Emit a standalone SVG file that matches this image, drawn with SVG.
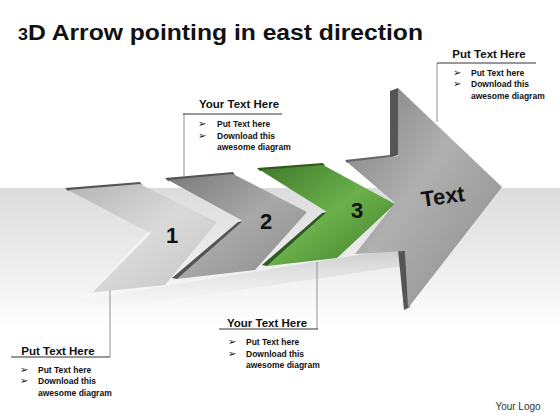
<svg xmlns="http://www.w3.org/2000/svg" width="560" height="420" viewBox="0 0 560 420">
<defs>
<linearGradient id="bg" x1="0" y1="0" x2="0" y2="1">
<stop offset="0" stop-color="#dcdcdc"/>
<stop offset="0.5" stop-color="#ececec"/>
<stop offset="1" stop-color="#ffffff"/>
</linearGradient>
<linearGradient id="floor" x1="0" y1="0" x2="0" y2="1">
<stop offset="0" stop-color="#c8c8c8"/>
<stop offset="1" stop-color="#eeeeee" stop-opacity="0"/>
</linearGradient>
<linearGradient id="g1" x1="0" y1="0" x2="1" y2="1">
<stop offset="0" stop-color="#b4b4b4"/>
<stop offset="0.5" stop-color="#dadada"/>
<stop offset="1" stop-color="#c4c4c4"/>
</linearGradient>
<linearGradient id="g2" x1="0" y1="0" x2="1" y2="1">
<stop offset="0" stop-color="#7a7a7a"/>
<stop offset="0.5" stop-color="#a8a8a8"/>
<stop offset="1" stop-color="#8c8c8c"/>
</linearGradient>
<linearGradient id="g3" x1="0" y1="0" x2="1" y2="1">
<stop offset="0" stop-color="#3f7a2a"/>
<stop offset="0.5" stop-color="#6bb04b"/>
<stop offset="1" stop-color="#3e7d2a"/>
</linearGradient>
<linearGradient id="g4" x1="0" y1="0" x2="1" y2="1">
<stop offset="0" stop-color="#7e7e7e"/>
<stop offset="0.45" stop-color="#b0b0b0"/>
<stop offset="1" stop-color="#8a8a8a"/>
</linearGradient>
<style>
.hd{font-family:"Liberation Sans",Arial,sans-serif;font-weight:bold;font-size:11.5px;fill:#111;text-anchor:middle}
.bt{font-family:"Liberation Sans",Arial,sans-serif;font-weight:bold;font-size:8.5px;fill:#111}
.bl{font-family:"DejaVu Sans",sans-serif;font-size:10px;fill:#111}
.ln{stroke:#333;stroke-width:1;fill:none}
.vl{stroke:#777;stroke-width:0.8;fill:none}
.num{font-family:"Liberation Sans",Arial,sans-serif;font-weight:bold;font-size:22px;fill:#111;text-anchor:middle}
.edge{fill:#555}
</style>
</defs>
<rect width="560" height="420" fill="#fff"/>
<rect x="0" y="188" width="560" height="140" fill="url(#bg)"/>
<polygon points="80,300 420,245 430,262 90,312" fill="url(#floor)"/>

<text x="18" y="40" font-family="Liberation Sans, Arial, sans-serif" font-weight="bold" font-size="22" fill="#111" textLength="405" lengthAdjust="spacingAndGlyphs"><tspan font-size="16">3</tspan>D Arrow pointing in east direction</text>

<g id="connectors">
<line class="vl" x1="184" y1="114" x2="184" y2="176"/>
<line class="vl" x1="437" y1="63" x2="437" y2="122"/>
<line class="vl" x1="317" y1="262" x2="317" y2="329"/>
<line class="vl" x1="110" y1="290" x2="110" y2="357"/>
</g>

<g id="chevron1">
<polygon points="65,188 140,182 142,185 68,191" class="edge"/>
<polygon points="68,190 140,184 217,222 165,285 88,293 148,232" fill="url(#g1)"/>
<polygon points="148,232 88,293 92,293 151,233" fill="#f4f4f4"/>
<text class="num" x="172" y="243">1</text>
</g>

<g id="chevron2">
<polygon points="165,178 233,172 235,175 168,181" class="edge"/>
<polygon points="168,180 233,174 307,212 255,270 177,279 243,221" fill="url(#g2)"/>
<polygon points="243,221 177,279 172,278 238,222" fill="#555"/>
<text class="num" x="266" y="229">2</text>
</g>

<g id="chevron3">
<polygon points="257,168 323,163 325,166 260,171" fill="#2f5a1e"/>
<polygon points="260,170 323,165 395,204 337,258 267,266 327,212" fill="url(#g3)"/>
<polygon points="327,212 267,266 262,265 322,213" fill="#2f5a1e"/>
<text class="num" x="357" y="218">3</text>
</g>

<g id="bigarrow">
<polygon points="345,160 390,155 392,158 347,163" fill="#666"/>
<polygon points="390,91 398,88 398,155 390,158" fill="#555"/>
<polygon points="398,250 405,251 410,307 404,310" fill="#555"/>
<polygon points="347,162 398,156 398,88 502,187 408,308 405,251 355,254 395,203" fill="url(#g4)"/>
<text x="443" y="204" font-family="Liberation Sans, Arial, sans-serif" font-weight="bold" font-size="22" fill="#111" text-anchor="middle" transform="rotate(-8 443 197)">Text</text>
</g>

<g id="callout-top">
<text class="hd" x="239" y="108">Your Text Here</text>
<line class="ln" x1="183" y1="114" x2="282" y2="114"/>
<text class="bl" x="198" y="127">➢</text><text class="bt" x="217" y="127">Put Text here</text>
<text class="bl" x="198" y="139">➢</text><text class="bt" x="217" y="139">Download this</text>
<text class="bt" x="217" y="150">awesome diagram</text>
</g>

<g id="callout-topright">
<text class="hd" x="489" y="58">Put Text Here</text>
<line class="ln" x1="437" y1="63" x2="536" y2="63"/>
<text class="bl" x="453" y="76">➢</text><text class="bt" x="471" y="76">Put Text here</text>
<text class="bl" x="453" y="87">➢</text><text class="bt" x="471" y="87">Download this</text>
<text class="bt" x="471" y="99">awesome diagram</text>
</g>

<g id="callout-bottom">
<text class="hd" x="267" y="327">Your Text Here</text>
<line class="ln" x1="219" y1="329" x2="318" y2="329"/>
<text class="bl" x="228" y="345">➢</text><text class="bt" x="246" y="345">Put Text here</text>
<text class="bl" x="228" y="357">➢</text><text class="bt" x="246" y="357">Download this</text>
<text class="bt" x="246" y="368">awesome diagram</text>
</g>

<g id="callout-bottomleft">
<text class="hd" x="58" y="355">Put Text Here</text>
<line class="ln" x1="11" y1="357" x2="110" y2="357"/>
<text class="bl" x="20" y="373">➢</text><text class="bt" x="38" y="373">Put Text here</text>
<text class="bl" x="20" y="384">➢</text><text class="bt" x="38" y="384">Download this</text>
<text class="bt" x="38" y="396">awesome diagram</text>
</g>

<text x="518" y="410" font-family="Liberation Sans, Arial, sans-serif" font-size="10" fill="#333" text-anchor="middle">Your Logo</text>
</svg>
